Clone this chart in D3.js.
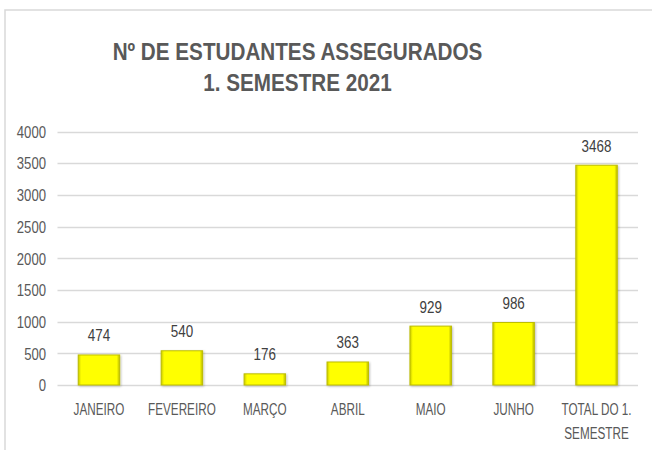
<!DOCTYPE html>
<html>
<head>
<meta charset="utf-8">
<script src="https://cdn.jsdelivr.net/npm/d3@7"></script>
<style>
  body { margin: 0; background: #fff; }
  svg { display: block; font-family: "Liberation Sans", Arial, sans-serif; }
</style>
</head>
<body>
<div id="grafico"></div>
<script>
// dados do grafico
var categorias = ["JANEIRO", "FEVEREIRO", "MARÇO", "ABRIL", "MAIO", "JUNHO", "TOTAL DO 1.|SEMESTRE"];
var valores = [474, 540, 176, 363, 929, 986, 3468];
var ticksY = [0, 500, 1000, 1500, 2000, 2500, 3000, 3500, 4000];
var titulo = ["Nº DE ESTUDANTES ASSEGURADOS", "1. SEMESTRE 2021"];

var largura = 652, altura = 450;
var svg = d3.select("#grafico").append("svg").attr("width", largura).attr("height", altura);

// moldura
svg.append("path")
    .attr("d", "M5,451 L5,10 L653,10")
    .attr("fill", "none")
    .attr("stroke", "#d9d9d9")
    .attr("stroke-width", 1.5);

// degradês das barras (efeito bisel)
var defs = svg.append("defs");
var gradH = defs.append("linearGradient").attr("id", "bordaH").attr("x1", 0).attr("x2", 1).attr("y1", 0).attr("y2", 0);
gradH.append("stop").attr("offset", "0%").attr("stop-color", "#c8c800");
gradH.append("stop").attr("offset", "7%").attr("stop-color", "#ffff00");
gradH.append("stop").attr("offset", "93%").attr("stop-color", "#ffff00");
gradH.append("stop").attr("offset", "100%").attr("stop-color", "#b8b800");
var sombra = defs.append("filter").attr("id", "sombra").attr("x", "-20%").attr("y", "-20%").attr("width", "140%").attr("height", "140%");
sombra.append("feDropShadow").attr("dx", 1).attr("dy", 1).attr("stdDeviation", 1).attr("flood-color", "#000").attr("flood-opacity", 0.25);

var x = d3.scaleBand()
    .domain(categorias)
    .range([57.5, 638])
    .paddingInner(0.5)
    .paddingOuter(0.25);

var y = d3.scaleLinear()
    .domain([0, 4000])
    .range([385, 131.5]);

// titulo
svg.append("g").selectAll("text")
    .data(titulo)
    .join("text")
    .attr("transform", function(d, i) { return "translate(297.5," + (59.5 + i * 31.5) + ") scale(0.88,1)"; })
    .attr("text-anchor", "middle")
    .attr("font-size", 23.5)
    .attr("font-weight", "bold")
    .attr("fill", "#595959")
    .text(function(d) { return d; });

// linhas de grade
svg.append("g").selectAll("line")
    .data(ticksY)
    .join("line")
    .attr("x1", 57.5)
    .attr("x2", 638)
    .attr("y1", function(d) { return Math.round(y(d)) + 0.5; })
    .attr("y2", function(d) { return Math.round(y(d)) + 0.5; })
    .attr("stroke", "#d9d9d9")
    .attr("stroke-width", 1.5);

// eixo y
var eixoY = svg.append("g")
    .attr("transform", "translate(57.5,0)")
    .call(d3.axisLeft(y).tickValues(ticksY).tickSize(0).tickFormat(d3.format("d")));
eixoY.select(".domain").remove();
eixoY.selectAll(".tick text")
    .attr("x", -11.5 / 0.82)
    .attr("dy", "0.36em")
    .attr("transform", "scale(0.82,1)")
    .attr("font-size", 16)
    .attr("font-family", "Liberation Sans, Arial, sans-serif")
    .attr("fill", "#595959");

// barras
svg.append("g").selectAll("rect")
    .data(valores)
    .join("rect")
    .attr("x", function(d, i) { return x(categorias[i]); })
    .attr("y", function(d) { return y(d); })
    .attr("width", x.bandwidth())
    .attr("height", function(d) { return y(0) - y(d); })
    .attr("fill", "url(#bordaH)")
    .attr("stroke", "#bdbd00")
    .attr("stroke-width", 1)
    .attr("filter", "url(#sombra)");

// rotulos de valor
svg.append("g").selectAll("text")
    .data(valores)
    .join("text")
    .attr("transform", function(d, i) {
        return "translate(" + (x(categorias[i]) + x.bandwidth() / 2) + "," + (y(d) - 13.5) + ") scale(0.84,1)";
    })
    .attr("text-anchor", "middle")
    .attr("font-size", 16)
    .attr("fill", "#404040")
    .text(function(d) { return d; });

// eixo x
var eixoX = svg.append("g")
    .attr("transform", "translate(0,385)")
    .call(d3.axisBottom(x).tickSize(0));
eixoX.select(".domain").remove();
eixoX.selectAll(".tick text").each(function(d) {
    var t = d3.select(this);
    var linhas = d.split("|");
    t.text(null)
        .attr("y", 30.5)
        .attr("dy", null)
        .attr("transform", "scale(0.69,1)")
        .attr("font-size", 17)
        .attr("font-family", "Liberation Sans, Arial, sans-serif")
        .attr("fill", "#595959");
    linhas.forEach(function(l, i) {
        t.append("tspan").attr("x", 0).attr("dy", i == 0 ? 0 : 24).text(l);
    });
});
</script>
</body>
</html>
